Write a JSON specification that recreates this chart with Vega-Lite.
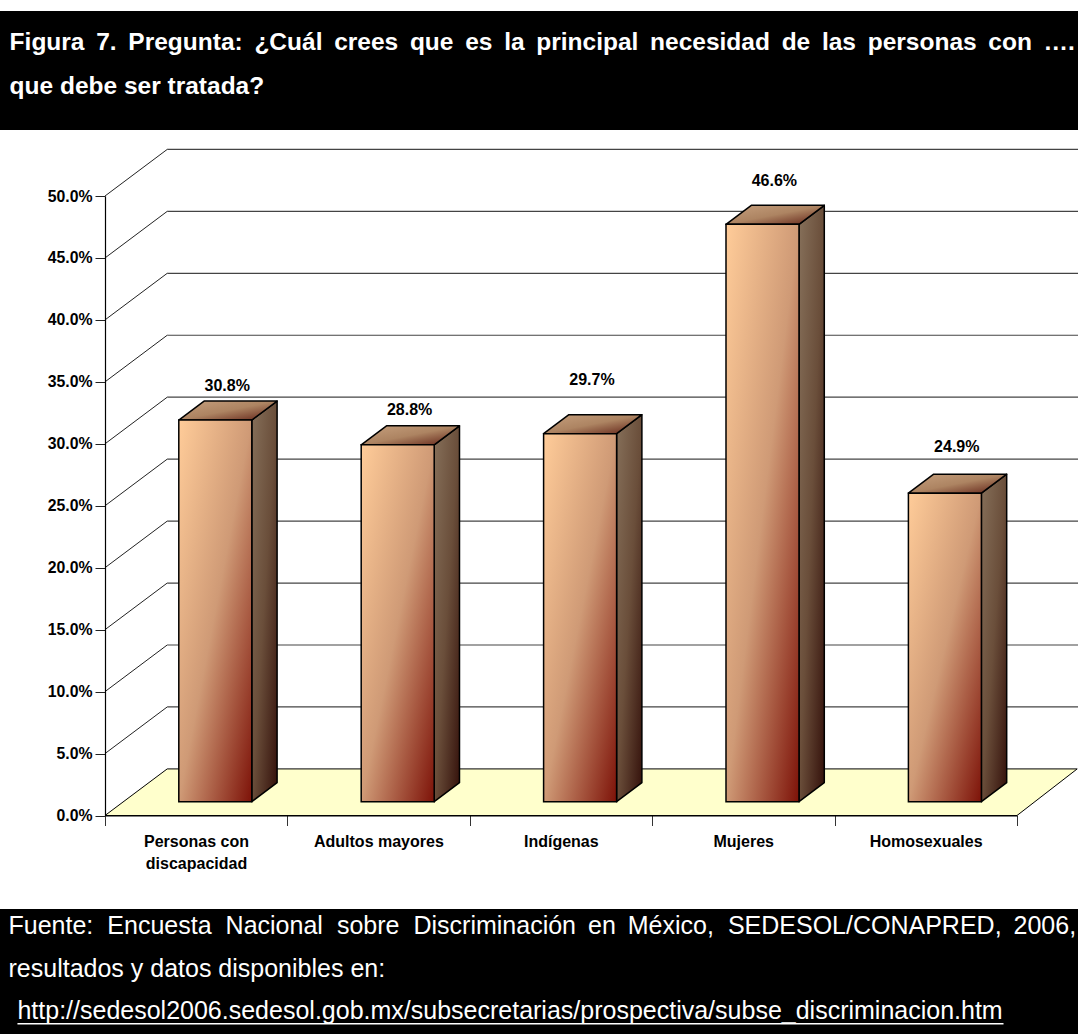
{
  "$schema": "https://vega.github.io/schema/vega-lite/v6.json",
  "width": 912,
  "height": 619.5,
  "autosize": {"type": "none"},
  "padding": {"left": 105, "top": 196, "right": 61, "bottom": 218.5},
  "background": "white",
  "view": {"stroke": null},
  "config": {"text": {"font": "Liberation Sans"}},
  "datasets": {
    "barras": [
      {"categoria": "Personas con discapacidad", "porcentaje": 30.8},
      {"categoria": "Adultos mayores", "porcentaje": 28.8},
      {"categoria": "Indígenas", "porcentaje": 29.7},
      {"categoria": "Mujeres", "porcentaje": 46.6},
      {"categoria": "Homosexuales", "porcentaje": 24.9}
    ],
    "niveles": [{"v": 5}, {"v": 10}, {"v": 15}, {"v": 20}, {"v": 25}, {"v": 30}, {"v": 35}, {"v": 40}, {"v": 45}, {"v": 50}]
  },
  "layer": [
    {
      "data": {"values": [{"esquina": 0}, {"esquina": 1}]},
      "transform": [
        {"calculate": "datum.esquina * 0.341", "as": "x0"},
        {"calculate": "5 + datum.esquina * 0.33", "as": "x1"},
        {"calculate": "datum.esquina * 3.76", "as": "y0"}
      ],
      "mark": {"type": "area", "orient": "horizontal", "fill": "#FFFFCC", "stroke": "black", "strokeWidth": 1},
      "encoding": {
        "x": {
          "field": "x0", "type": "quantitative",
          "scale": {"domain": [0, 5], "nice": false, "zero": false},
          "axis": {
            "title": null, "values": [0, 1, 2, 3, 4, 5], "grid": false, "zindex": 1,
            "domainColor": "black", "domainWidth": 1.2, "tickColor": "#333", "tickSize": 10, "tickWidth": 1,
            "labelFont": "Liberation Sans", "labelFontWeight": "bold", "labelFontSize": 16, "labelColor": "black",
            "labelOffset": 91, "labelPadding": 7.5, "labelLineHeight": 22, "labelAlign": "center", "labelBaseline": "top", "labelOverlap": false, "labelBound": false, "labelFlush": false,
            "labelExpr": "[['Personas con','discapacidad'],'Adultos mayores','Indígenas','Mujeres','Homosexuales',''][datum.value]"
          }
        },
        "x2": {"field": "x1"},
        "y": {
          "field": "y0", "type": "quantitative",
          "scale": {"domain": [0, 50], "nice": false, "zero": false},
          "axis": {
            "title": null, "values": [0, 5, 10, 15, 20, 25, 30, 35, 40, 45, 50], "grid": false, "zindex": 1,
            "domainColor": "black", "domainWidth": 1.2, "tickColor": "#222", "tickSize": 10, "tickWidth": 1,
            "labelFont": "Liberation Sans", "labelFontWeight": "bold", "labelFontSize": 15.8, "labelColor": "black", "labelPadding": 3, "labelFlush": false, "labelOverlap": false,
            "labelExpr": "format(datum.value, '.1f') + '%'"
          }
        }
      }
    },
    {
      "data": {"name": "niveles"},
      "transform": [{"calculate": "datum.v + 3.76", "as": "v2"}],
      "mark": {"type": "rule", "stroke": "#222", "strokeWidth": 1},
      "encoding": {
        "x": {"datum": 0, "type": "quantitative", "scale": {"domain": [0, 5], "nice": false, "zero": false}},
        "x2": {"datum": 0.341},
        "y": {"field": "v", "type": "quantitative", "scale": {"domain": [0, 50], "nice": false, "zero": false}},
        "y2": {"field": "v2"}
      }
    },
    {
      "data": {"name": "niveles"},
      "transform": [{"calculate": "datum.v + 3.76", "as": "v2"}],
      "mark": {"type": "rule", "stroke": "#444", "strokeWidth": 1.2},
      "encoding": {
        "x": {"datum": 0.341, "type": "quantitative", "scale": {"domain": [0, 5], "nice": false, "zero": false}},
        "x2": {"datum": 5.34},
        "y": {"field": "v2", "type": "quantitative", "scale": {"domain": [0, 50], "nice": false, "zero": false}}
      }
    },
    {
      "data": {"name": "barras"},
      "transform": [
        {"calculate": "indexof(['Personas con discapacidad','Adultos mayores','Indígenas','Mujeres','Homosexuales'], datum.categoria)", "as": "i"},
        {"calculate": "[0,1]", "as": "esquina"},
        {"flatten": ["esquina"]},
        {"calculate": "datum.i + 0.8048 + datum.esquina * 0.1387", "as": "xs"},
        {"calculate": "1.115 + datum.esquina * 1.535", "as": "ybase"},
        {"calculate": "datum.porcentaje + 1.115 + datum.esquina * 1.535", "as": "ytop"}
      ],
      "mark": {
        "type": "area", "orient": "vertical", "stroke": "black", "strokeWidth": 1.5, "strokeJoin": "round",
        "fill": {"gradient": "linear", "x1": 0, "y1": 0, "x2": 1, "y2": 1, "stops": [
          {"offset": 0, "color": "#86705A"},
          {"offset": 0.5, "color": "#6A4E3A"},
          {"offset": 1, "color": "#33100A"}
        ]}
      },
      "encoding": {
        "x": {"field": "xs", "type": "quantitative", "scale": {"domain": [0, 5], "nice": false, "zero": false}},
        "y": {"field": "ybase", "type": "quantitative", "scale": {"domain": [0, 50], "nice": false, "zero": false}},
        "y2": {"field": "ytop"},
        "detail": {"field": "categoria"}
      }
    },
    {
      "data": {"name": "barras"},
      "transform": [
        {"calculate": "indexof(['Personas con discapacidad','Adultos mayores','Indígenas','Mujeres','Homosexuales'], datum.categoria)", "as": "i"},
        {"calculate": "[0,1]", "as": "esquina"},
        {"flatten": ["esquina"]},
        {"calculate": "datum.i + 0.4046 + datum.esquina * 0.1387", "as": "xa"},
        {"calculate": "datum.i + 0.8048 + datum.esquina * 0.1387", "as": "xb"},
        {"calculate": "datum.porcentaje + 1.115 + datum.esquina * 1.535", "as": "ytop"}
      ],
      "mark": {
        "type": "area", "orient": "horizontal", "stroke": "black", "strokeWidth": 1.5, "strokeJoin": "round",
        "fill": {"gradient": "linear", "x1": 0, "y1": 0, "x2": 1, "y2": 1, "stops": [
          {"offset": 0, "color": "#C6A07E"},
          {"offset": 0.5, "color": "#AD8462"},
          {"offset": 1, "color": "#5E1E14"}
        ]}
      },
      "encoding": {
        "x": {"field": "xa", "type": "quantitative", "scale": {"domain": [0, 5], "nice": false, "zero": false}},
        "x2": {"field": "xb"},
        "y": {"field": "ytop", "type": "quantitative", "scale": {"domain": [0, 50], "nice": false, "zero": false}},
        "detail": {"field": "categoria"}
      }
    },
    {
      "data": {"name": "barras"},
      "transform": [
        {"calculate": "indexof(['Personas con discapacidad','Adultos mayores','Indígenas','Mujeres','Homosexuales'], datum.categoria)", "as": "i"},
        {"calculate": "datum.i + 0.4046", "as": "xa"},
        {"calculate": "datum.i + 0.8048", "as": "xb"},
        {"calculate": "1.115", "as": "ybase"},
        {"calculate": "datum.porcentaje + 1.115", "as": "ytop"}
      ],
      "mark": {
        "type": "rect", "stroke": "black", "strokeWidth": 1.5,
        "fill": {"gradient": "linear", "x1": 0, "y1": 0, "x2": 1, "y2": 1, "stops": [
          {"offset": 0, "color": "#FFCC99"},
          {"offset": 0.5, "color": "#CF9A76"},
          {"offset": 1, "color": "#7D1208"}
        ]}
      },
      "encoding": {
        "x": {"field": "xa", "type": "quantitative", "scale": {"domain": [0, 5], "nice": false, "zero": false}},
        "x2": {"field": "xb"},
        "y": {"field": "ybase", "type": "quantitative", "scale": {"domain": [0, 50], "nice": false, "zero": false}},
        "y2": {"field": "ytop"}
      }
    },
    {
      "data": {"name": "barras"},
      "transform": [
        {"calculate": "indexof(['Personas con discapacidad','Adultos mayores','Indígenas','Mujeres','Homosexuales'], datum.categoria)", "as": "i"},
        {"calculate": "datum.i + 0.67", "as": "xt"},
        {"calculate": "datum.porcentaje + [3.89, 3.95, 5.48, 4.65, 4.87][datum.i]", "as": "yt"},
        {"calculate": "format(datum.porcentaje, '.1f') + '%'", "as": "etiqueta"}
      ],
      "mark": {"type": "text", "font": "Liberation Sans", "fontWeight": "bold", "fontSize": 16, "color": "black", "align": "center", "baseline": "middle"},
      "encoding": {
        "x": {"field": "xt", "type": "quantitative", "scale": {"domain": [0, 5], "nice": false, "zero": false}},
        "y": {"field": "yt", "type": "quantitative", "scale": {"domain": [0, 50], "nice": false, "zero": false}},
        "text": {"field": "etiqueta"}
      }
    },
    {
      "data": {"values": [{"franja": "cabecera", "a": 64.93, "b": 55.33}, {"franja": "pie", "a": -7.55, "b": -17.7}]},
      "mark": {"type": "rect", "fill": "black"},
      "encoding": {
        "x": {"datum": -0.58, "type": "quantitative", "scale": {"domain": [0, 5], "nice": false, "zero": false}},
        "x2": {"datum": 5.34},
        "y": {"field": "a", "type": "quantitative", "scale": {"domain": [0, 50], "nice": false, "zero": false}},
        "y2": {"field": "b"}
      }
    },
    {
      "data": {"values": [
        {"texto": "Figura \u20097. \u2009Pregunta: \u2009¿Cuál \u2009crees \u2009que \u2009es \u2009la \u2009principal \u2009necesidad \u2009de \u2009las \u2009personas \u2009con \u2009….", "fila": 61.78},
        {"texto": "que debe ser tratada?", "fila": 58.23}
      ]},
      "mark": {"type": "text", "font": "Liberation Sans", "fontWeight": "bold", "fontSize": 24.5, "color": "white", "align": "left", "baseline": "alphabetic"},
      "encoding": {
        "x": {"datum": -0.523, "type": "quantitative", "scale": {"domain": [0, 5], "nice": false, "zero": false}},
        "y": {"field": "fila", "type": "quantitative", "scale": {"domain": [0, 50], "nice": false, "zero": false}},
        "text": {"field": "texto"}
      }
    },
    {
      "data": {"values": [
        {"texto": "Fuente: \u2009\u200AEncuesta \u2009\u200ANacional \u2009\u200Asobre \u2009\u200ADiscriminación \u2009en \u2009México, \u2009\u200ASEDESOL/CONAPRED, \u20092006,", "fila": -9.53},
        {"texto": "resultados y datos disponibles en:", "fila": -13.04}
      ]},
      "mark": {"type": "text", "font": "Liberation Sans", "fontSize": 25, "color": "white", "align": "left", "baseline": "alphabetic"},
      "encoding": {
        "x": {"datum": -0.529, "type": "quantitative", "scale": {"domain": [0, 5], "nice": false, "zero": false}},
        "y": {"field": "fila", "type": "quantitative", "scale": {"domain": [0, 50], "nice": false, "zero": false}},
        "text": {"field": "texto"}
      }
    },
    {
      "data": {"values": [{"texto": "http://sedesol2006.sedesol.gob.mx/subsecretarias/prospectiva/subse_discriminacion.htm", "fila": -16.44}]},
      "mark": {"type": "text", "font": "Liberation Sans", "fontSize": 25, "color": "white", "align": "left", "baseline": "alphabetic"},
      "encoding": {
        "x": {"datum": -0.48, "type": "quantitative", "scale": {"domain": [0, 5], "nice": false, "zero": false}},
        "y": {"field": "fila", "type": "quantitative", "scale": {"domain": [0, 50], "nice": false, "zero": false}},
        "text": {"field": "texto"}
      }
    },
    {
      "data": {"values": [{"fila": -16.8}]},
      "mark": {"type": "rule", "stroke": "white", "strokeWidth": 1.5},
      "encoding": {
        "x": {"datum": -0.48, "type": "quantitative", "scale": {"domain": [0, 5], "nice": false, "zero": false}},
        "x2": {"datum": 4.926},
        "y": {"field": "fila", "type": "quantitative", "scale": {"domain": [0, 50], "nice": false, "zero": false}}
      }
    }
  ]
}
